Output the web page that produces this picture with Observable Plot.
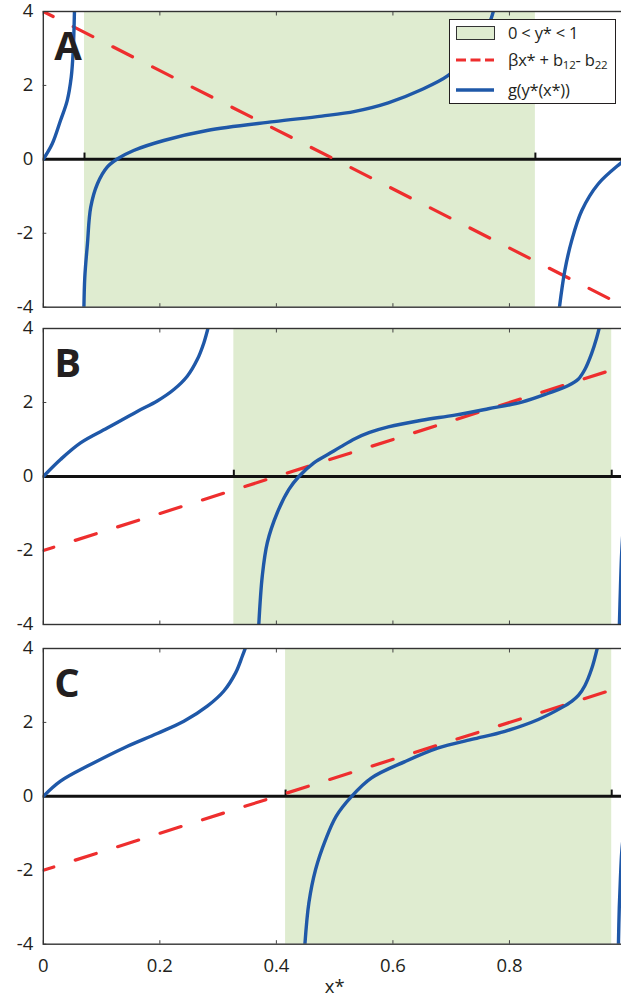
<!DOCTYPE html>
<html><head><meta charset="utf-8">
<script src="https://cdn.jsdelivr.net/npm/d3@7"></script>
<script src="https://cdn.jsdelivr.net/npm/@observablehq/plot@0.6"></script>
<style>
html,body{margin:0;padding:0;background:#fff;overflow:hidden;}
#wrap{position:relative;width:621px;height:998px;font-family:"Open Sans",sans-serif;color:#231f20;}
#legend{position:absolute;left:449px;top:19px;width:165px;height:83px;border:1.5px solid #231f20;background:#fff;}
#legend .sw{position:absolute;left:5.5px;}
#legend .lab{position:absolute;left:58px;font-size:16.5px;line-height:20px;white-space:nowrap;letter-spacing:-0.2px;}
#legend sub{font-size:11.5px;vertical-align:-3px;line-height:0;}
</style></head><body>
<div id="wrap">
  <div id="legend">
    <svg class="sw" style="top:6px" width="40" height="15"><rect x="0.5" y="0.5" width="38" height="13" fill="#dfecd0" stroke="#333" stroke-width="1"/></svg>
    <div class="lab" style="top:3px">0 &lt; y* &lt; 1</div>
    <svg class="sw" style="top:34px" width="40" height="12"><line x1="0" x2="38" y1="6" y2="6" stroke="#ee2e2e" stroke-width="3.2" stroke-dasharray="10,4.5"/></svg>
    <div class="lab" style="top:30px">βx* + b<sub>12</sub>- b<sub>22</sub></div>
    <svg class="sw" style="top:64px" width="40" height="12"><line x1="0" x2="38" y1="6" y2="6" stroke="#1f58a8" stroke-width="3.4"/></svg>
    <div class="lab" style="top:60px">g(y*(x*))</div>
  </div>
</div>
<script>
// ---- data ----
const panelKeys = ["A", "B", "C"];
const xTicks = [0, 0.2, 0.4, 0.6, 0.8, 1];
const xTickLabels = ["0", "0.2", "0.4", "0.6", "0.8", "1"];
const yTicks = [-4, -2, 0, 2, 4];
const yTickLabels = ["-4", "-2", "0", "2", "4"];
const xLabel = "x*";

// shaded region 0 < y* < 1 (x* bounds)
const shadeA = [0.0707, 0.8445];
const shadeB = [0.327, 0.9755];
const shadeC = [0.4158, 0.9755];

// dashed line beta x* + b12 - b22 (endpoints at x* = 0 and 1)
const redX = [0, 1];
const redA = [4, -4];
const redB = [-2, 3];
const redC = [-2, 3];

// g(y*(x*)) branches, [x*, g]
const gA1 = [[0,0],[0.0153,0.42],[0.0295,1.05],[0.041,1.59],[0.0479,2.22],[0.0513,2.94],[0.0536,4.1]];
const gA2 = [[0.0695,-4.2],[0.0712,-3.19],[0.0757,-2.29],[0.0813,-1.30],[0.0929,-0.66],[0.1096,-0.21],[0.1268,0.01],[0.155,0.24],[0.2068,0.51],[0.281,0.78],[0.396,1.02],[0.478,1.17],[0.535,1.30],[0.592,1.53],[0.6496,1.89],[0.695,2.27],[0.73,2.8],[0.755,3.3],[0.768,3.78],[0.774,4.1]];
const gA3 = [[0.885,-4.1],[0.895,-3.01],[0.9068,-2.20],[0.924,-1.39],[0.9526,-0.66],[0.9926,-0.08],[1,0.02]];

const gB1 = [[0,0],[0.0295,0.46],[0.0639,0.91],[0.1097,1.31],[0.1612,1.76],[0.1955,2.04],[0.224,2.35],[0.247,2.71],[0.2642,3.16],[0.2755,3.61],[0.2841,4.1]];
const gB2 = [[0.3695,-4.1],[0.3758,-2.69],[0.3844,-1.79],[0.4015,-0.98],[0.4215,-0.35],[0.4386,0],[0.4644,0.37],[0.4931,0.64],[0.5102,0.80],[0.5348,1.02],[0.56,1.19],[0.5921,1.34],[0.6493,1.52],[0.7064,1.66],[0.7638,1.83],[0.821,2.01],[0.8668,2.25],[0.9011,2.46],[0.918,2.63],[0.9296,2.9],[0.9411,3.33],[0.9497,3.75],[0.9554,4.1]];
const gB3 = [[0.9885,-4.1],[0.9905,-3.0],[0.9926,-2.06],[0.996,-1.3],[1,-0.9]];

const gC1 = [[0,0],[0.0295,0.41],[0.081,0.86],[0.1382,1.31],[0.1955,1.70],[0.2412,2.03],[0.2814,2.44],[0.3099,2.85],[0.33,3.34],[0.3415,3.79],[0.3488,4.1]];
const gC2 = [[0.4485,-4.1],[0.4558,-2.88],[0.4673,-1.98],[0.4845,-1.17],[0.5025,-0.54],[0.5291,0],[0.5634,0.50],[0.6206,0.94],[0.6779,1.31],[0.7351,1.54],[0.7923,1.76],[0.8496,2.08],[0.8896,2.40],[0.9068,2.57],[0.9183,2.73],[0.9296,3.0],[0.9411,3.45],[0.9514,4.05]];
const gC3 = [[0.9869,-4.1],[0.9885,-3.0],[0.9905,-2.2],[0.9926,-1.53],[0.996,-1.0],[1,-0.6]];

// ---- assemble ----
const shade = {A: shadeA, B: shadeB, C: shadeC};
const red = {A: redA, B: redB, C: redC};
const blue = {A: [gA1, gA2, gA3], B: [gB1, gB2, gB3], C: [gC1, gC2, gC3]};
const layout = {A: {top: 11, bottom: 306.7}, B: {top: 328.3, bottom: 624.3}, C: {top: 648.3, bottom: 944}};

const INK = "#231f20", BLUE = "#1f58a8", RED = "#ee2e2e", GREEN = "#dfecd0";
const wrap = document.getElementById("wrap");
const legend = document.getElementById("legend");

for (const k of panelKeys) {
  const {top, bottom} = layout[k];
  const last = k === "C";
  const mt = k === "A" ? top : 20, mb = last ? 998 - bottom : 10;
  const lineData = blue[k].flatMap((seg, si) => seg.map(([x, g]) => ({x, g, s: si})));
  const redData = redX.map((x, i) => ({x, v: red[k][i]}));
  const marks = [
    Plot.rect([shade[k]], {x1: d => d[0], x2: d => d[1], fill: GREEN}),
    Plot.axisX({ticks: xTicks, anchor: "bottom", tickSize: -3.5, fill: null, label: null, stroke: "#444"}),
    Plot.axisX({ticks: xTicks, anchor: "top", tickSize: -3.5, fill: null, label: null, stroke: "#444"}),
    Plot.axisY({ticks: yTicks, anchor: "left", tickSize: -3.5, fill: null, label: null, stroke: "#444"}),
    Plot.axisY({ticks: yTicks, anchor: "left", tickSize: 0, tickPadding: 10, fontSize: 18.5, fill: INK, label: null,
      tickFormat: d => yTickLabels[yTicks.indexOf(d)]}),
    Plot.ruleY([0], {stroke: "#111", strokeWidth: 3}),
    Plot.ruleX(shade[k], {x: d => d, y1: 0, y2: 0.17, stroke: "#111", strokeWidth: 2}),
    Plot.line(redData, {x: "x", y: "v", stroke: RED, strokeWidth: 3.2, strokeDasharray: "22,22.5", strokeDashoffset: 11, clip: true}),
    Plot.line(lineData, {x: "x", y: "g", z: "s", stroke: BLUE, strokeWidth: 3.4, curve: "catmull-rom", clip: true}),
    Plot.frame({stroke: "#333", strokeWidth: 1.4}),
    Plot.text([k], {text: d => d, frameAnchor: "top-left", dx: 11, dy: 20, lineAnchor: "top", textAnchor: "start",
      fontSize: 40, fontWeight: "bold", fill: INK})
  ];
  if (last) {
    marks.push(Plot.axisX({ticks: xTicks, anchor: "bottom", tickSize: 0, tickPadding: 15, fontSize: 18.5, fill: INK,
      tickFormat: d => xTickLabels[xTicks.indexOf(d)],
      label: xLabel, labelAnchor: "center", labelArrow: "none", labelOffset: 49}));
  }
  const chart = Plot.plot({
    width: 621, height: (bottom - top) + mt + mb,
    marginTop: mt, marginBottom: mb, marginLeft: 42.8, marginRight: -4.5,
    x: {domain: [0, 1]}, y: {domain: [-4, 4]},
    style: {fontFamily: "'Open Sans', sans-serif", fontSize: "19px", color: INK, background: "none", overflow: "visible"},
    marks
  });
  chart.style.position = "absolute";
  chart.style.left = "0px";
  chart.style.top = (top - mt) + "px";
  wrap.insertBefore(chart, legend);
}
</script>
</body></html>
